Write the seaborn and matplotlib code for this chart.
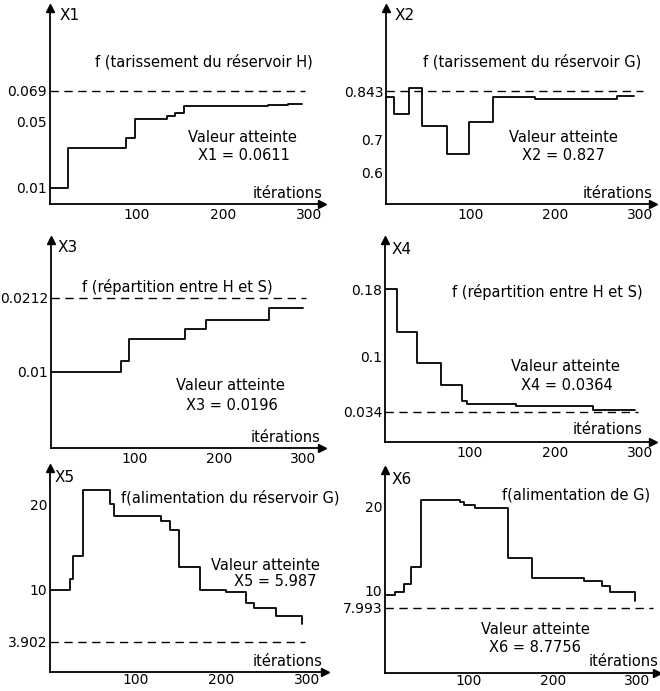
import matplotlib
matplotlib.use("Agg")
import matplotlib.pyplot as plt
import seaborn as sns

# ---------------- data ----------------
it1 = [0, 21, 88, 98, 135, 144, 155, 252, 275, 291]
x1 = [0.01, 0.0343, 0.0403, 0.0518, 0.0534, 0.0555, 0.0595, 0.0603, 0.0611, 0.0611]

it2 = [0, 10, 27.5, 42, 72, 98, 126, 176, 273, 292]
x2 = [0.825, 0.776, 0.851, 0.738, 0.655, 0.751, 0.826, 0.819, 0.827, 0.827]

it3 = [0, 83, 93, 159, 185, 260, 300]
x3 = [0.01, 0.0116, 0.0149, 0.0164, 0.0178, 0.0196, 0.0196]

it4 = [0, 14, 38, 66, 91, 96, 154, 244, 294]
x4 = [0.18, 0.129, 0.092, 0.066, 0.047, 0.044, 0.041, 0.0364, 0.0364]

it5 = [0, 23, 27, 39, 70, 75, 130, 140, 150, 175, 206, 229, 238, 264, 294]
x5 = [10, 11.2, 13.9, 21.7, 20.1, 18.7, 18.0, 17.0, 12.7, 10.0, 9.7, 8.4, 7.8, 6.9, 5.987]

it6 = [0, 12, 23, 31, 43, 89, 94, 107, 147, 175, 237, 259, 268, 298]
x6 = [9.53, 9.92, 10.8, 12.88, 20.79, 20.59, 20.2, 19.88, 13.95, 11.5, 11.19, 10.63, 9.85, 8.7756]

ref_levels = [0.069, 0.843, 0.0212, 0.034, 3.902, 7.993]
ref_ends = [295, 303, 304, 297, 298, 319]

yticks_list = [[0.01, 0.05, 0.069], [0.6, 0.7, 0.843], [0.01, 0.0212],
               [0.034, 0.1, 0.18], [3.902, 10, 20], [7.993, 10, 20]]
ylabels_list = [["0.01", "0.05", "0.069"], ["0.6", "0.7", "0.843"], ["0.01", "0.0212"],
                ["0.034", "0.1", "0.18"], ["3.902", "10", "20"], ["7.993", "10", "20"]]
xticks = [100, 200, 300]
xticklabels = ["100", "200", "300"]

var_names = ["X1", "X2", "X3", "X4", "X5", "X6"]
titles = ["f (tarissement du réservoir H)", "f (tarissement du réservoir G)",
          "f (répartition entre H et S)", "f (répartition entre H et S)",
          "f(alimentation du réservoir G)", "f(alimentation de G)"]
results = ["X1 = 0.0611", "X2 = 0.827", "X3 = 0.0196", "X4 = 0.0364",
           "X5 = 5.987", "X6 = 8.7756"]
reached = "Valeur atteinte"
xname = "itérations"

series = [(it1, x1), (it2, x2), (it3, x3), (it4, x4), (it5, x5), (it6, x6)]

# ---------------- layout (pixels) ----------------
W, H = 660, 691
boxes = [(50, 8, 322, 204), (386, 8, 653, 204), (51, 240, 322, 448),
         (385, 240, 653, 442), (50, 468, 325, 672), (385, 470, 657, 673)]
xmaxs = [314.5, 315, 322.6, 315, 321, 324]
ylims = [(0.0, 0.1193), (0.506, 1.091), (-0.0015, 0.0299),
         (-0.0018, 0.2388), (0.35, 24.27), (0.27, 24.35)]
xpads = [3, 3, 3, 3, 1, 1]

txt = [
    dict(name=(60, 15), title=(95, 62, "left"), reach=(242, 137, "center"), res=(244, 155, "center"), it=(322, 193)),
    dict(name=(395, 15), title=(423, 62, "left"), reach=(563, 137, "center"), res=(563, 155, "center"), it=(652, 193)),
    dict(name=(58, 247), title=(82, 287, "left"), reach=(230, 385, "center"), res=(232, 405, "center"), it=(320, 437)),
    dict(name=(392, 250), title=(452, 292, "left"), reach=(565, 367, "center"), res=(567, 385, "center"), it=(642, 429)),
    dict(name=(55, 477), title=(121, 498, "left"), reach=(320, 565, "right"), res=(317, 581, "right"), it=(323, 662)),
    dict(name=(392, 480), title=(502, 495, "left"), reach=(535, 630, "center"), res=(535, 648, "center"), it=(659, 662)),
]

sns.set_style("white")
plt.rcParams["font.family"] = ["DejaVu Sans"]

fig = plt.figure(figsize=(W / 100, H / 100), dpi=100)
fig.patch.set_facecolor("white")


def ftext(x, y, s, ha="left", size=10):
    fig.text(x / W, 1 - y / H, s, ha=ha, va="center", fontsize=size, color="black")


for k in range(6):
    l, t, r, b = boxes[k]
    ax = fig.add_axes([l / W, 1 - b / H, (r - l) / W, (b - t) / H])
    ax.set_facecolor("none")
    its, vals = series[k]
    sns.lineplot(x=its, y=vals, ax=ax, color="black", lw=1.3,
                 drawstyle="steps-post", sort=False, estimator=None)
    sns.lineplot(x=[0, ref_ends[k]], y=[ref_levels[k], ref_levels[k]], ax=ax,
                 color="black", lw=1.0, linestyle=(0, (6, 4)), sort=False, estimator=None)
    ax.set_xlim(0, xmaxs[k])
    ax.set_ylim(*ylims[k])
    ax.set_xticks(xticks)
    ax.set_xticklabels(xticklabels)
    ax.set_yticks(yticks_list[k])
    ax.set_yticklabels(ylabels_list[k])
    ax.tick_params(axis="both", direction="in", length=3, width=1, labelsize=10,
                   colors="black")
    ax.tick_params(axis="x", pad=xpads[k])
    ax.tick_params(axis="y", pad=2)
    for s in ["top", "right"]:
        ax.spines[s].set_visible(False)
    for s in ["left", "bottom"]:
        ax.spines[s].set_color("black")
        ax.spines[s].set_linewidth(1.3)
    ax.set_xlabel("")
    ax.set_ylabel("")
    ax.plot([1], [0], marker=">", ms=6, color="black", transform=ax.transAxes, clip_on=False)
    ax.plot([0], [1], marker="^", ms=6, color="black", transform=ax.transAxes, clip_on=False)

    d = txt[k]
    ftext(d["name"][0], d["name"][1], var_names[k], size=11)
    ftext(d["title"][0], d["title"][1], titles[k], ha=d["title"][2], size=10.5)
    ftext(d["reach"][0], d["reach"][1], reached, ha=d["reach"][2], size=10.5)
    ftext(d["res"][0], d["res"][1], results[k], ha=d["res"][2], size=10.5)
    ftext(d["it"][0], d["it"][1], xname, ha="right", size=10.5)

fig.savefig("out.png", dpi=100, facecolor="white")
